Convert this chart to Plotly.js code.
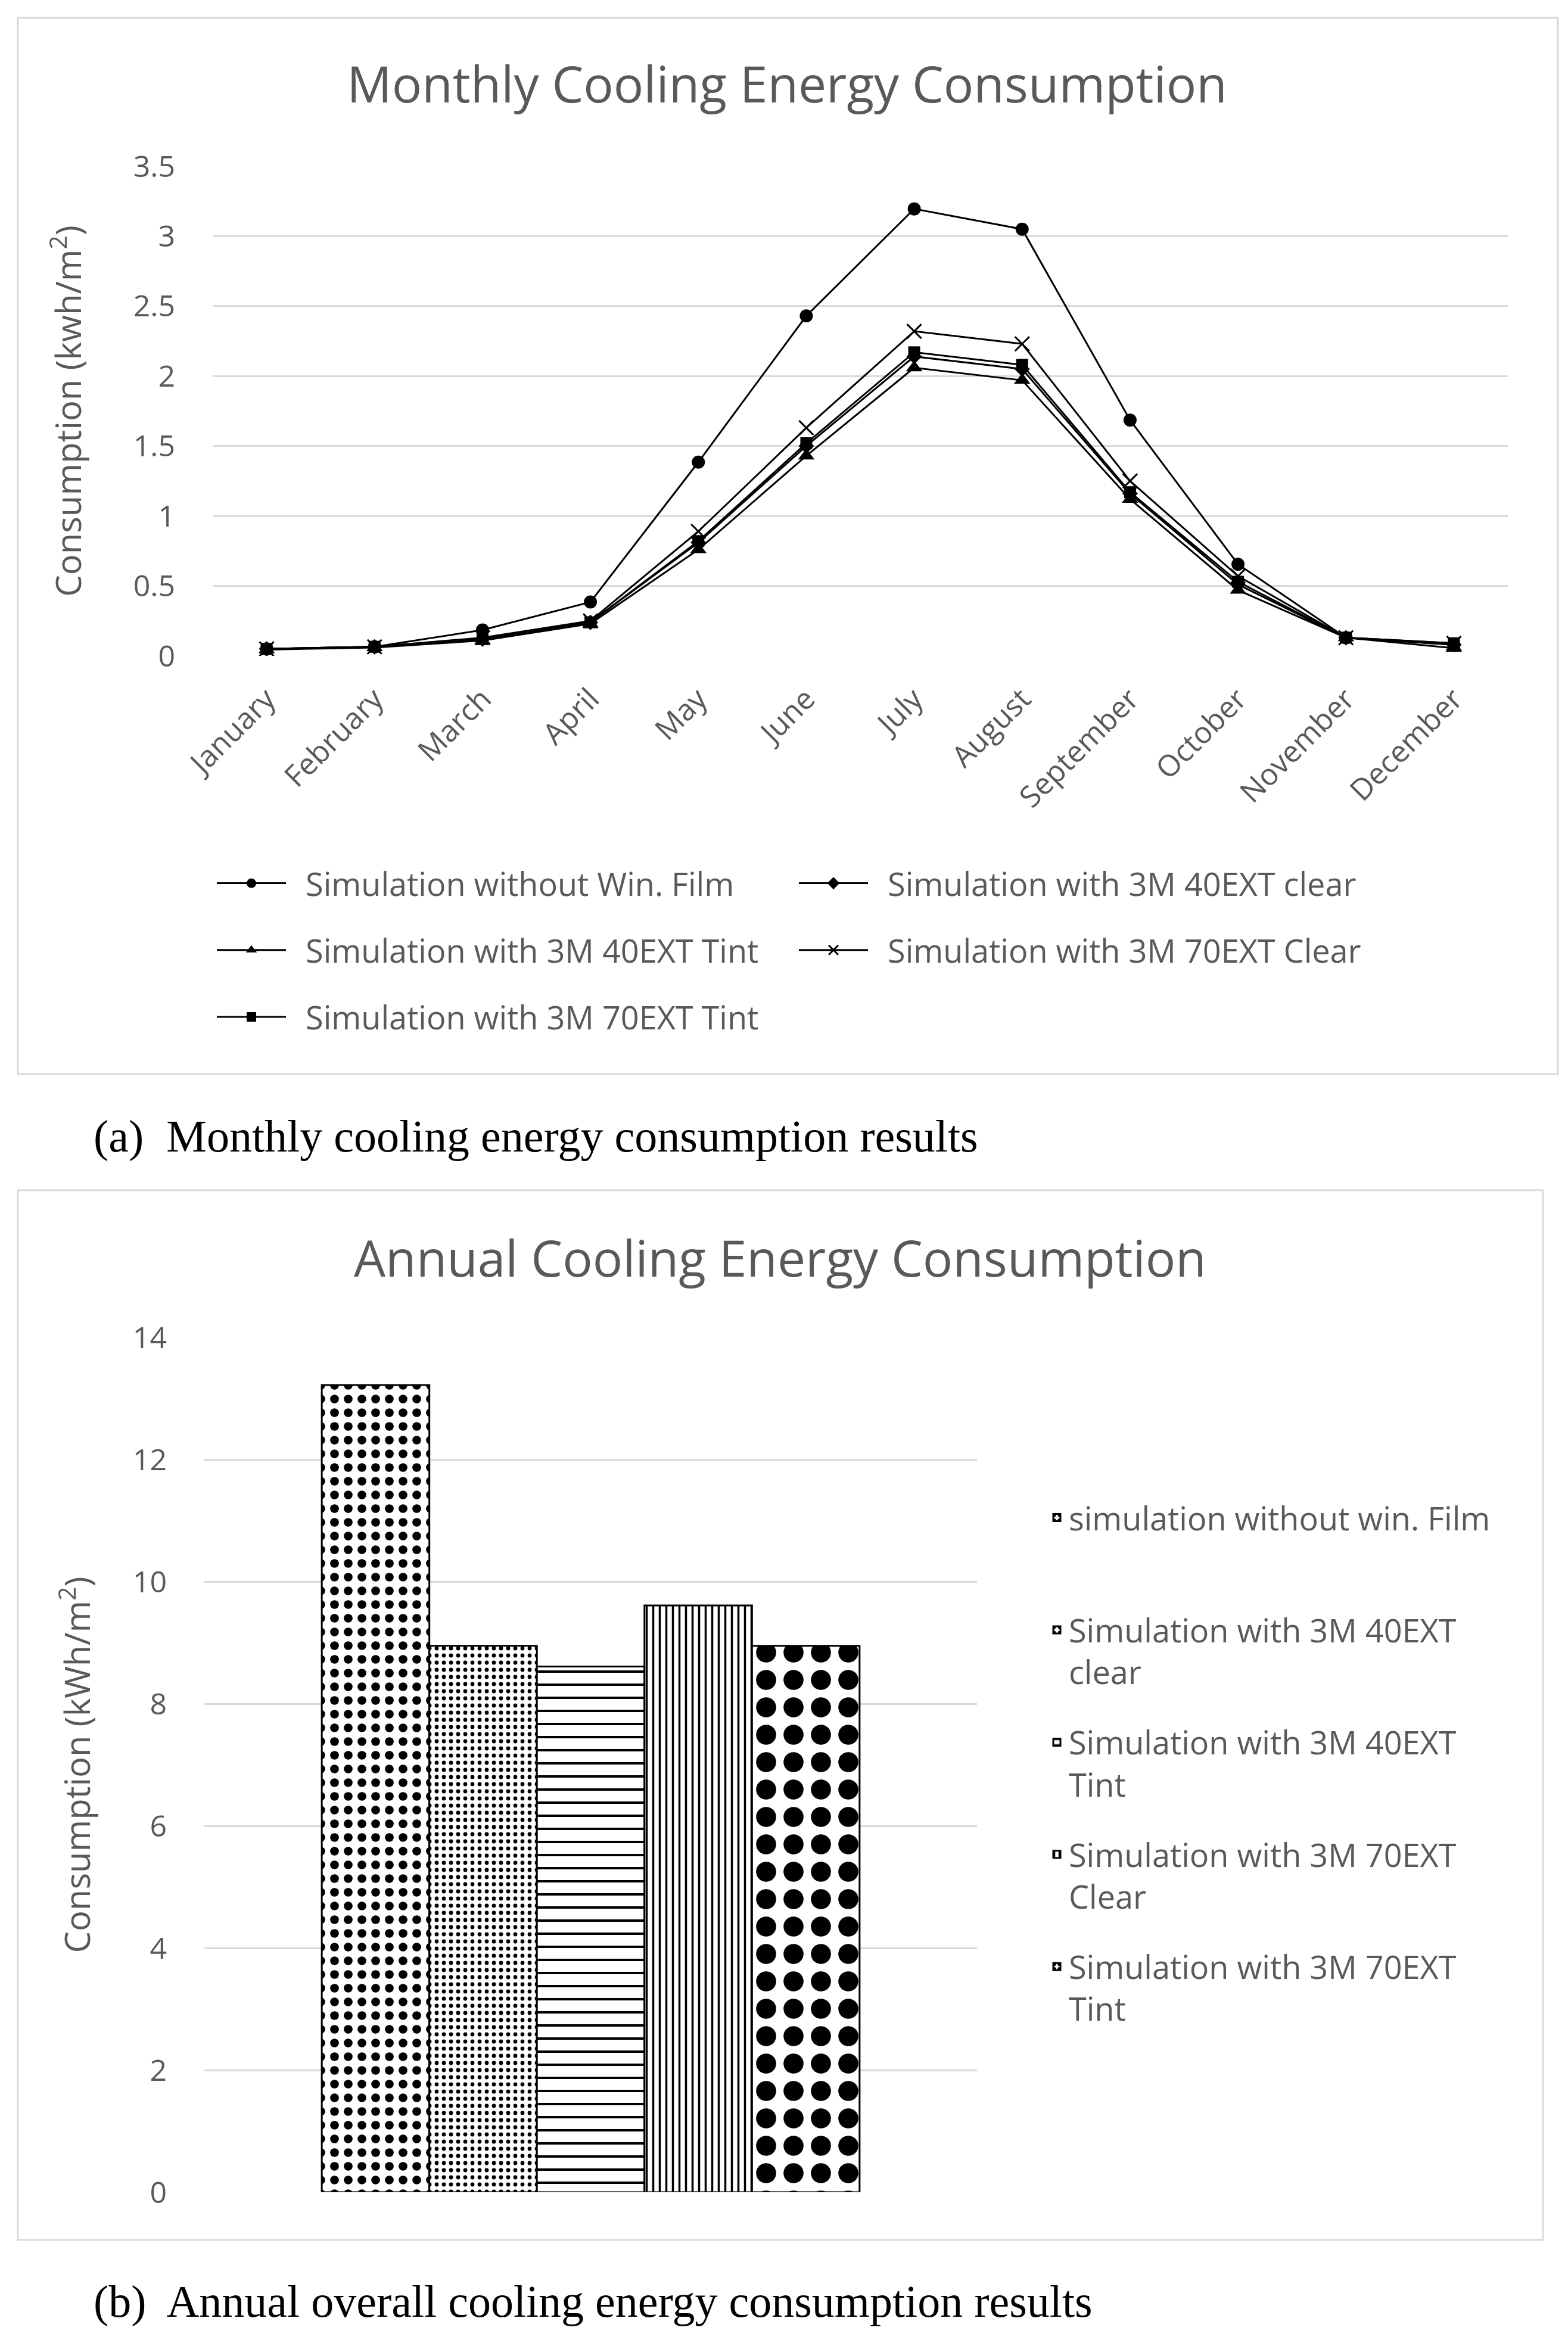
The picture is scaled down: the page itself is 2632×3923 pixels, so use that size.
<!DOCTYPE html>
<html>
<head>
<meta charset="utf-8">
<script src="https://cdn.plot.ly/plotly-3.0.1.min.js"></script>
<style>html,body{margin:0;padding:0;background:#fff;}#chart{width:2632px;height:3923px;}</style>
</head>
<body>
<div id="chart"></div>
<script>
// ---- data ----
const months = ["January","February","March","April","May","June","July","August","September","October","November","December"];
const seriesNames = ["Simulation without Win. Film","Simulation with 3M 40EXT clear","Simulation with 3M 40EXT Tint","Simulation with 3M 70EXT Clear","Simulation with 3M 70EXT Tint"];
const withoutFilm = [0.05,0.065,0.185,0.385,1.385,2.43,3.195,3.05,1.685,0.655,0.13,0.08];
const ext40Clear  = [0.05,0.065,0.12,0.24,0.81,1.50,2.14,2.05,1.16,0.51,0.13,0.08];
const ext40Tint   = [0.045,0.06,0.11,0.23,0.76,1.43,2.06,1.97,1.12,0.47,0.13,0.055];
const ext70Clear  = [0.05,0.065,0.13,0.25,0.89,1.63,2.32,2.23,1.25,0.57,0.13,0.09];
const ext70Tint   = [0.05,0.065,0.12,0.24,0.82,1.52,2.17,2.08,1.17,0.53,0.13,0.09];
const monthlySeries = [withoutFilm, ext40Clear, ext40Tint, ext70Clear, ext70Tint];

const annualNames = ["simulation without win. Film<br>\u00a0","Simulation with 3M 40EXT<br>clear","Simulation with 3M 40EXT<br>Tint","Simulation with 3M 70EXT<br>Clear","Simulation with 3M 70EXT<br>Tint"];
const annualValues = [13.22, 8.95, 8.61, 9.61, 8.95];
const annualCategory = ["Annual"];

// ---- styles ----
const W = 2632, H = 3923;
const px = v => v / W;
const py = v => 1 - v / H;
const gray = "#595959";
const grid = "#d9d9d9";
const FONT = "Open Sans, sans-serif";

const symbols = ["circle","diamond","triangle-up","x-thin-open","square"];
const msizes = [22, 20, 24, 24, 20];
const lineLegends = ["legend","legend2","legend","legend2","legend"];

const traces = [];
monthlySeries.forEach((vals, i) => {
  traces.push({
    type: "scatter", mode: "lines+markers",
    x: months, y: vals, name: "\u00a0\u00a0" + seriesNames[i],
    xaxis: "x", yaxis: "y",
    legend: lineLegends[i], legendgroup: "m" + i,
    line: {color: "#000", width: 3},
    marker: {symbol: symbols[i], size: msizes[i], color: "#000",
             line: {color: "#000", width: symbols[i] === "x-thin-open" ? 3 : 0}}
  });
});

const patterns = [
  {shape: ".", size: 23, solidity: 0.32},
  {shape: ".", size: 12, solidity: 0.25},
  {shape: "-", size: 22, solidity: 0.18},
  {shape: "|", size: 11, solidity: 0.32},
  {shape: ".", size: 46, solidity: 0.42}
];
annualValues.forEach((v, i) => {
  traces.push({
    type: "bar", x: annualCategory, y: [v], name: annualNames[i],
    xaxis: "x2", yaxis: "y2",
    legend: "legend3", legendgroup: "b" + i,
    marker: {color: "#fff", line: {color: "#000", width: 3},
             pattern: Object.assign({fillmode: "replace", fgcolor: "#000", bgcolor: "#fff"}, patterns[i])}
  });
});

const tickFont = {family: FONT, size: 50, color: gray};
const legendFont = {family: FONT, size: 54, color: gray};

const layout = {
  width: W, height: H,
  margin: {l: 0, r: 0, t: 0, b: 0},
  paper_bgcolor: "#fff", plot_bgcolor: "#fff",
  font: {family: FONT, color: gray},
  showlegend: true,
  barmode: "group", bargap: 0.304, bargroupgap: 0,
  title: {text: "Monthly Cooling Energy Consumption", font: {family: FONT, size: 84, color: gray},
          x: px(1321), xanchor: "center", y: py(143), yanchor: "middle", xref: "paper", yref: "paper"},
  xaxis: {domain: [px(357), px(2531)], anchor: "y", type: "category", range: [-0.5, 11.5],
          tickangle: -45, tickfont: tickFont, ticks: "outside", ticklen: 22, tickcolor: "rgba(0,0,0,0)",
          showgrid: false, zeroline: false, showline: false, fixedrange: true},
  yaxis: {domain: [py(1101), py(279)], anchor: "x", range: [0, 3.5], dtick: 0.5,
          tickfont: tickFont, ticks: "outside", ticklen: 52, tickcolor: "rgba(0,0,0,0)",
          showgrid: true, gridcolor: grid, gridwidth: 3, zeroline: false, showline: false,
          title: {text: "Consumption (kwh/m<sup>2</sup>)", font: {family: FONT, size: 58, color: gray}, standoff: 68}},
  xaxis2: {domain: [px(343), px(1640)], anchor: "y2", type: "category",
           showticklabels: false, showgrid: false, zeroline: false, showline: false, ticks: ""},
  yaxis2: {domain: [py(3680), py(2245)], anchor: "x2", range: [0, 14], dtick: 2,
           tickfont: tickFont, ticks: "outside", ticklen: 52, tickcolor: "rgba(0,0,0,0)",
           showgrid: true, gridcolor: grid, gridwidth: 3, zeroline: false, showline: false,
           title: {text: "Consumption (kWh/m<sup>2</sup>)", font: {family: FONT, size: 58, color: gray}, standoff: 52}},
  legend: {x: px(359), y: py(1441), xanchor: "left", yanchor: "top", orientation: "v",
           font: legendFont, itemwidth: 116, traceorder: "grouped", tracegroupgap: 39,
           bgcolor: "rgba(0,0,0,0)", borderwidth: 0},
  legend2: {x: px(1336), y: py(1441), xanchor: "left", yanchor: "top", orientation: "v",
           font: legendFont, itemwidth: 116, traceorder: "grouped", tracegroupgap: 39,
           bgcolor: "rgba(0,0,0,0)", borderwidth: 0},
  legend3: {x: px(1754), y: py(2506), xanchor: "left", yanchor: "top", orientation: "v",
           font: legendFont, itemwidth: 30, traceorder: "grouped", tracegroupgap: 45, valign: "top",
           bgcolor: "rgba(0,0,0,0)", borderwidth: 0},
  shapes: [
    {type: "rect", xref: "paper", yref: "paper", x0: px(30), x1: px(2615), y0: py(30), y1: py(1803),
     line: {color: grid, width: 3}, fillcolor: "rgba(0,0,0,0)", layer: "below"},
    {type: "rect", xref: "paper", yref: "paper", x0: px(30), x1: px(2590), y0: py(1998), y1: py(3760),
     line: {color: grid, width: 3}, fillcolor: "rgba(0,0,0,0)", layer: "below"}
  ],
  annotations: [
    {text: "Annual Cooling Energy Consumption", xref: "paper", yref: "paper", x: px(1309), y: py(2110),
     xanchor: "center", yanchor: "middle", showarrow: false, font: {family: FONT, size: 84, color: gray}},
    {text: "(a)  Monthly cooling energy consumption results", xref: "paper", yref: "paper", x: px(155), y: py(1907),
     xanchor: "left", yanchor: "middle", showarrow: false, font: {family: "Liberation Serif, Times New Roman, serif", size: 76, color: "#000"}},
    {text: "(b)  Annual overall cooling energy consumption results", xref: "paper", yref: "paper", x: px(155), y: py(3863),
     xanchor: "left", yanchor: "middle", showarrow: false, font: {family: "Liberation Serif, Times New Roman, serif", size: 76, color: "#000"}}
  ]
};

Plotly.newPlot("chart", traces, layout, {staticPlot: true, displayModeBar: false});
</script>
</body>
</html>
